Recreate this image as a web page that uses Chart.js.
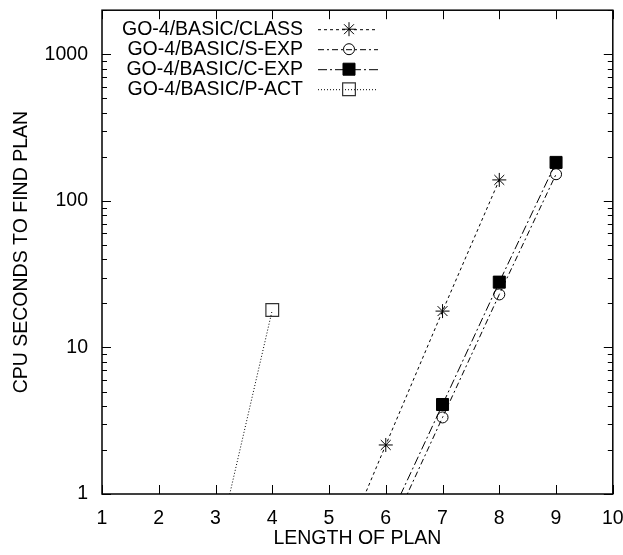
<!DOCTYPE html>
<html><head><meta charset="utf-8">
<script src="https://cdn.jsdelivr.net/npm/chart.js@4"></script>
<style>html,body{margin:0;padding:0;background:#fff}#wrap{width:623px;height:555px;position:relative}</style>
</head><body><div id="wrap"><canvas id="c"></canvas></div>
<script>
// ---- data ----
const xTickValues = [1, 2, 3, 4, 5, 6, 7, 8, 9, 10];
const yTickValues = [1, 10, 100, 1000];
const seriesNames = ['GO-4/BASIC/CLASS', 'GO-4/BASIC/S-EXP', 'GO-4/BASIC/C-EXP', 'GO-4/BASIC/P-ACT'];
const classX = [5, 6, 7, 8];
const classY = [0.26, 2.16, 17.7, 139];
const sexpX = [6, 7, 8, 9];
const sexpY = [0.48, 3.33, 23, 152];
const cexpX = [6, 7, 8, 9];
const cexpY = [0.6, 4.08, 27.9, 183];
const pactX = [3, 4];
const pactY = [0.38, 18];

const FONT = "'Liberation Sans', Arial, sans-serif";
const FS = 19.5;
const pts = (xs, ys) => xs.map((x, i) => ({x: x, y: ys[i]}));

const inwardTicks = {
  id: 'inwardTicks',
  afterDatasetsDraw(chart) {
    const {ctx, chartArea: a, scales: {x, y}} = chart;
    ctx.save();
    ctx.strokeStyle = '#000';
    ctx.lineWidth = 1;
    ctx.beginPath();
    xTickValues.forEach(v => {
      const px = Math.round(x.getPixelForValue(v)) + 0.5;
      ctx.moveTo(px, a.bottom); ctx.lineTo(px, a.bottom - 9);
      ctx.moveTo(px, a.top); ctx.lineTo(px, a.top + 9);
    });
    yTickValues.forEach(dec => {
      for (let m = 1; m <= 9; m++) {
        const v = dec * m;
        if (v > y.max) continue;
        const py = Math.round(y.getPixelForValue(v)) + 0.5;
        const len = m === 1 ? 9 : 5;
        ctx.moveTo(a.left, py); ctx.lineTo(a.left + len, py);
        ctx.moveTo(a.right, py); ctx.lineTo(a.right - len, py);
      }
    });
    ctx.stroke();
    ctx.lineWidth = 1.5;
    ctx.strokeRect(a.left, a.top, a.right - a.left, a.bottom - a.top);
    ctx.restore();
  }
};

const boxLegend = {
  id: 'boxLegend',
  afterDraw(chart) {
    const {ctx, chartArea: a} = chart;
    ctx.save();
    ctx.font = FS + 'px ' + FONT;
    ctx.textAlign = 'right';
    ctx.textBaseline = 'middle';
    chart.data.datasets.forEach((ds, i) => {
      const yy = a.top + 19 + i * 20;
      ctx.fillStyle = '#000';
      ctx.fillText(ds.label, a.left + 201, yy);
      ctx.strokeStyle = '#000';
      ctx.lineWidth = ds.borderWidth;
      ctx.setLineDash(ds.borderDash || []);
      ctx.beginPath();
      ctx.moveTo(a.left + 216, yy + 0.5);
      ctx.lineTo(a.left + 276, yy + 0.5);
      ctx.stroke();
      ctx.setLineDash([]);
      ctx.fillStyle = ds.pointBackgroundColor;
      ctx.strokeStyle = ds.pointBorderColor;
      ctx.lineWidth = ds.pointBorderWidth;
      Chart.helpers.drawPoint(ctx, {
        pointStyle: ds.pointStyle,
        radius: ds.pointRadius,
        borderWidth: ds.pointBorderWidth,
        rotation: 0
      }, a.left + 247, yy);
    });
    ctx.restore();
  }
};

new Chart(document.getElementById('c'), {
  type: 'line',
  data: {
    datasets: [
      {label: seriesNames[0], data: pts(classX, classY), borderColor: '#000', borderWidth: 1,
       borderDash: [3, 3], pointStyle: 'star', pointRadius: 7, pointBorderColor: '#000',
       pointBackgroundColor: 'rgba(0,0,0,0)', pointBorderWidth: 1},
      {label: seriesNames[1], data: pts(sexpX, sexpY), borderColor: '#000', borderWidth: 1,
       borderDash: [6, 3, 2, 3], pointStyle: 'circle', pointRadius: 5.5, pointBorderColor: '#000',
       pointBackgroundColor: 'rgba(255,255,255,0)', pointBorderWidth: 1},
      {label: seriesNames[2], data: pts(cexpX, cexpY), borderColor: '#000', borderWidth: 1,
       borderDash: [9, 3, 2, 3], pointStyle: 'rect', pointRadius: 8.5, pointBorderColor: '#000',
       pointBackgroundColor: '#000', pointBorderWidth: 1},
      {label: seriesNames[3], data: pts(pactX, pactY), borderColor: '#000', borderWidth: 1,
       borderDash: [1, 2], pointStyle: 'rect', pointRadius: 9, pointBorderColor: '#333',
       pointBackgroundColor: 'rgba(255,255,255,0)', pointBorderWidth: 1.2}
    ]
  },
  options: {
    responsive: true,
    maintainAspectRatio: false,
    animation: false,
    layout: {padding: {top: 8, right: 9, left: 0, bottom: 0}},
    plugins: {legend: {display: false}, tooltip: {enabled: false}},
    elements: {line: {tension: 0, fill: false}},
    scales: {
      x: {
        type: 'linear', min: 1, max: 10,
        afterBuildTicks: s => { s.ticks = xTickValues.map(v => ({value: v})); },
        afterFit: s => { s.height = 61; s.paddingLeft = 0; s.paddingRight = 0; },
        grid: {display: false, drawTicks: false},
        border: {display: false},
        ticks: {padding: 13, color: '#000', font: {family: FONT, size: FS}, maxRotation: 0},
        title: {display: true, text: 'LENGTH OF PLAN', color: '#000',
                font: {family: FONT, size: FS}, padding: {top: 0, bottom: 5}}
      },
      y: {
        type: 'logarithmic', min: 1, max: 2000,
        afterBuildTicks: s => { s.ticks = yTickValues.map(v => ({value: v, major: true})); },
        afterFit: s => { s.width = 102; s.paddingTop = 0; s.paddingBottom = 0; },
        grid: {display: false, drawTicks: false},
        border: {display: false},
        ticks: {padding: 14, color: '#000', font: {family: FONT, size: FS},
                callback: v => String(v)},
        title: {display: true, text: 'CPU SECONDS TO FIND PLAN', color: '#000',
                font: {family: FONT, size: FS}, padding: {top: 10, bottom: 0}}
      }
    }
  },
  plugins: [inwardTicks, boxLegend]
});
</script>
</body></html>
